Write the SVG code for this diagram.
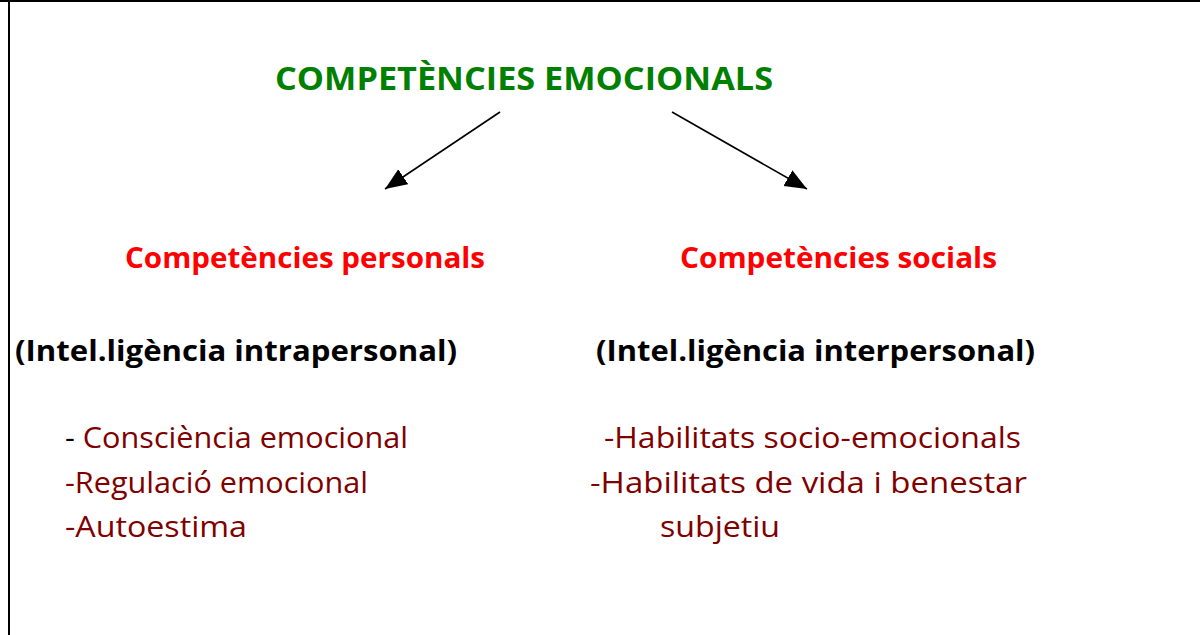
<svg xmlns="http://www.w3.org/2000/svg" width="1200" height="635" viewBox="0 0 1200 635">
<defs>
<style>
text{font-family:"Open Sans","Liberation Sans",sans-serif;}
.title{font-size:32px;font-weight:bold;fill:#008000;}
.head{font-size:29px;font-weight:bold;fill:#FF0000;}
.paren{font-size:28px;font-weight:bold;fill:#000000;}
.item{font-size:29px;fill:#800000;}
.blk{fill:#000000;}
.conn{stroke:#000;stroke-width:1.6;fill:none;marker-end:url(#ah);}
</style>
<marker id="ah" markerUnits="userSpaceOnUse" markerWidth="24" markerHeight="20" refX="22" refY="9" orient="auto">
<path d="M0,0 L22,9 L0,18 Z" fill="#000"/>
</marker>
</defs>
<rect x="0" y="0" width="1200" height="635" fill="#fff"/>
<g id="frame">
<line x1="0" y1="1" x2="1200" y2="1" stroke="#000" stroke-width="2"/>
<line x1="9" y1="0" x2="9" y2="635" stroke="#000" stroke-width="2"/>
</g>
<g id="connectors">
<line class="conn" x1="500" y1="112" x2="385" y2="189"/>
<line class="conn" x1="672" y1="112" x2="807" y2="189"/>
</g>
<g id="root">
<text class="title" x="275" y="90" textLength="498" lengthAdjust="spacingAndGlyphs">COMPETÈNCIES EMOCIONALS</text>
</g>
<g id="personals">
<text class="head" x="125" y="268" textLength="360" lengthAdjust="spacingAndGlyphs">Competències personals</text>
<text class="paren" x="15" y="361" textLength="442" lengthAdjust="spacingAndGlyphs">(Intel.ligència intrapersonal)</text>
<text class="item" x="65" y="448" textLength="343" lengthAdjust="spacingAndGlyphs"><tspan class="blk">-</tspan> Consciència emocional</text>
<text class="item" x="65" y="493" textLength="303" lengthAdjust="spacingAndGlyphs">-Regulació emocional</text>
<text class="item" x="65" y="537" textLength="182" lengthAdjust="spacingAndGlyphs">-Autoestima</text>
</g>
<g id="socials">
<text class="head" x="680" y="268" textLength="317" lengthAdjust="spacingAndGlyphs">Competències socials</text>
<text class="paren" x="596" y="361" textLength="439" lengthAdjust="spacingAndGlyphs">(Intel.ligència interpersonal)</text>
<text class="item" x="604" y="448" textLength="417" lengthAdjust="spacingAndGlyphs">-Habilitats socio-emocionals</text>
<text class="item" x="590" y="493" textLength="437" lengthAdjust="spacingAndGlyphs">-Habilitats de vida i benestar</text>
<text class="item" x="660" y="537" textLength="120" lengthAdjust="spacingAndGlyphs">subjetiu</text>
</g>
</svg>
